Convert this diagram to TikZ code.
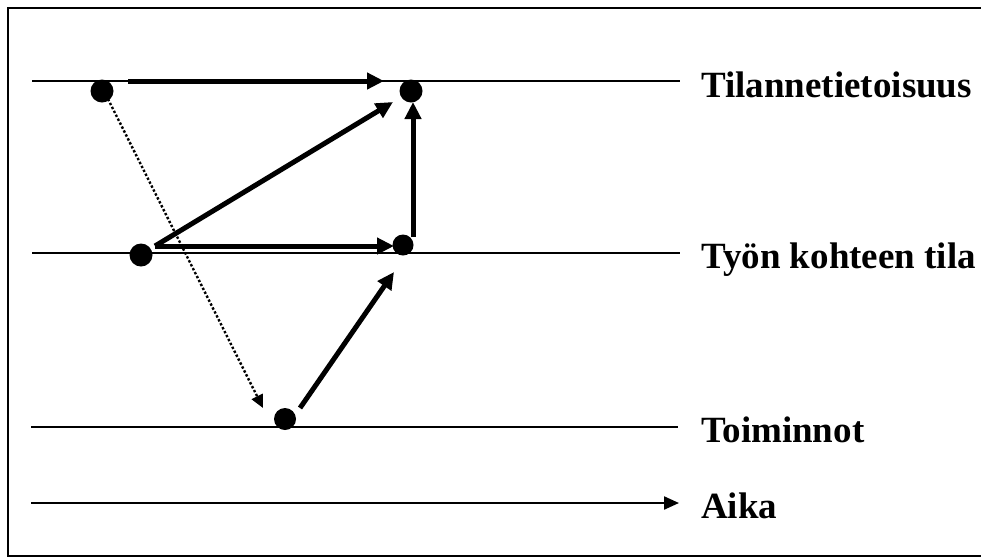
\documentclass[tikz,border=0pt]{standalone}
\usepackage{fontspec}
\setmainfont{Liberation Serif}
\usetikzlibrary{arrows.meta}
\begin{document}
\begin{tikzpicture}[x=1pt,y=-1pt,
  dot/.style={circle,fill=black,inner sep=0pt,minimum size=23pt},
  level/.style={line width=2.6pt},
  bigarrow/.style={line width=5pt,-{Triangle[length=17pt,width=16pt]}},
  dotarrow/.style={line width=2.4pt,dotted,-{Triangle[length=13pt,width=12pt]}},
  lab/.style={anchor=base west,inner sep=0pt,font=\fontsize{37}{40}\selectfont\bfseries}]
\useasboundingbox (0,0) rectangle (981,558);
% frame (open on the right)
\draw[line width=2.6pt] (981,8) -- (8,8) -- (8,556) -- (981,556);
% level lines
\draw[level] (32,81) -- (680,81);
\draw[level] (32,253) -- (680,253);
\draw[level] (31,427) -- (678,427);
\draw[line width=2.2pt,-{Triangle[length=15pt,width=13pt]}] (31,503) -- (679,503);
% labels
\node[lab] (t1) at (701,97) {Tilannetietoisuus};
\node[lab] (t2) at (701,268) {Työn kohteen tila};
\node[lab] (t3) at (701,442) {Toiminnot};
\node[lab] (t4) at (701,518) {Aika};
% dots
\node[dot] (A) at (102,91) {};
\node[dot] (B) at (411,91) {};
\node[dot] (C) at (141,255) {};
\node[dot,minimum size=21pt] (D) at (403,245) {};
\node[dot,minimum size=22pt] (E) at (285,419) {};
% arrow end points
\coordinate (a1) at (128,81);
\coordinate (b1) at (384,81);
\coordinate (c1) at (155,246);
\coordinate (b2) at (393,102);
\coordinate (d1) at (394,246);
\coordinate (d2) at (413,237);
\coordinate (b3) at (413,102);
\coordinate (a2) at (108,99);
\coordinate (e1) at (263,408);
\coordinate (e2) at (300,408);
\coordinate (d3) at (394,272);
% arrows
\draw[bigarrow] (a1) -- (b1);
\draw[bigarrow] (c1) -- (b2);
\draw[bigarrow] (c1) -- (d1);
\draw[bigarrow] (d2) -- (b3);
\draw[bigarrow] (e2) -- (d3);
\draw[dotarrow] (a2) -- (e1);
\end{tikzpicture}
\end{document}
